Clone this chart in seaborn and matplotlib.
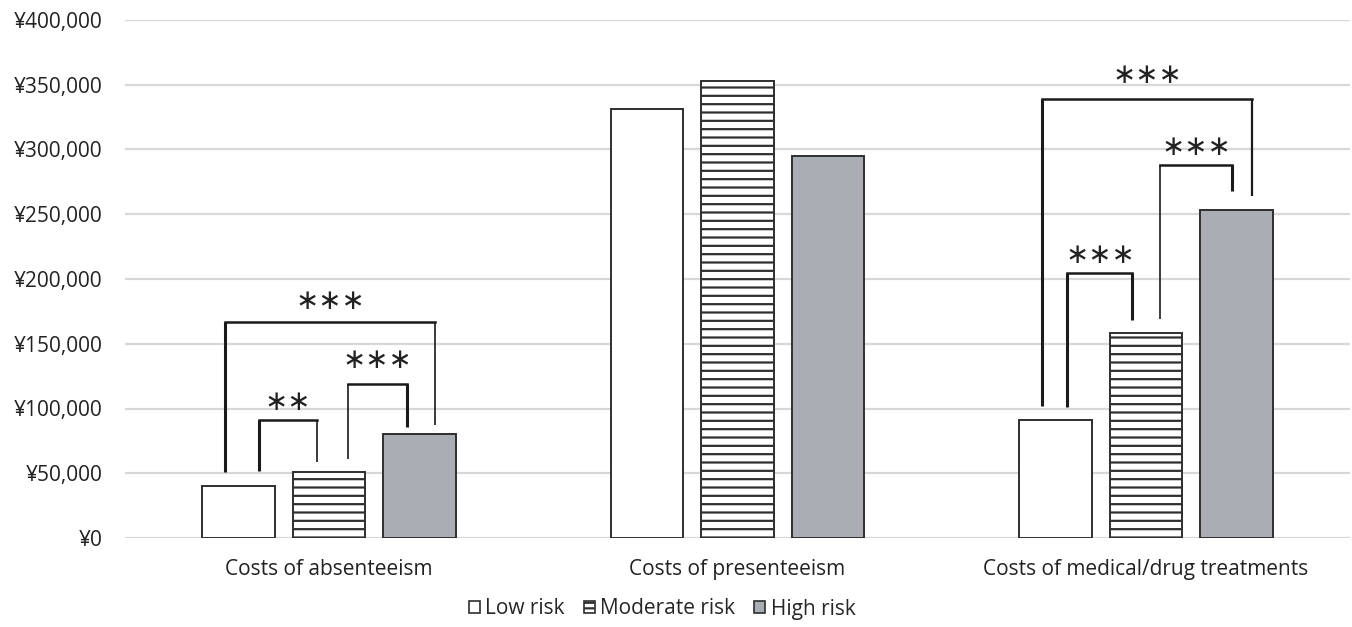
import numpy as np
import pandas as pd
import seaborn as sns
import matplotlib.pyplot as plt
from matplotlib.patches import Patch
from matplotlib.ticker import FuncFormatter

categories = ["Costs of absenteeism", "Costs of presenteeism",
              "Costs of medical/drug treatments"]
risk_groups = ["Low risk", "Moderate risk", "High risk"]
low_risk = [40000, 331000, 91000]
moderate_risk = [51000, 353000, 158000]
high_risk = [80000, 295000, 253000]

# significance brackets: group index, leg x offsets, bar-top y's, bracket top, stars
br_group = [0, 0, 0, 2, 2, 2]
br_x0 = [-0.171, 0.047, -0.255, -0.192, 0.035, -0.255]
br_x1 = [-0.030, 0.190, 0.260, -0.033, 0.212, 0.261]
br_y0 = [52000, 61000, 51000, 101000, 169000, 102000]
br_y1 = [59000, 86000, 87000, 168000, 268000, 264000]
br_top = [91000, 119000, 167000, 205000, 288000, 339000]
br_text_y = [105000, 137500, 183000, 218500, 302000, 357500]
br_label = ["**", "***", "***", "***", "***", "***"]
br_lw0 = [2.2, 1.2, 2.2, 2.2, 1.2, 2.2]
br_lw1 = [1.2, 2.2, 1.2, 2.2, 2.2, 1.6]

df = pd.DataFrame({
    "category": np.repeat(categories, 3),
    "risk": risk_groups * 3,
    "cost": [v for trio in zip(low_risk, moderate_risk, high_risk) for v in trio],
})

sns.set_theme(style="white")
plt.rcParams["font.family"] = ["Open Sans", "DejaVu Sans"]
plt.rcParams["hatch.linewidth"] = 1.6

edge = "#2f2f2f"
fills = {"Low risk": "white", "Moderate risk": "white", "High risk": "#a9adb4"}

fig = plt.figure(figsize=(13.52, 6.27), dpi=100)
ax = fig.add_axes([125 / 1352, 1 - 538 / 627, 1225 / 1352, 518 / 627])

sns.barplot(data=df, x="category", y="cost", hue="risk", hue_order=risk_groups,
            palette=fills, width=0.665, gap=0.2, edgecolor=edge, linewidth=1.4,
            legend=False, ax=ax)
for bar in ax.containers[1]:
    bar.set_hatch("--")

ax.set_ylim(0, 400000)
ax.set_yticks(np.arange(0, 400001, 50000))
ax.yaxis.set_major_formatter(FuncFormatter(lambda v, p: f"¥{v:,.0f}"))
ax.grid(axis="y", color="#d6d8dc", linewidth=1.6)
ax.set_axisbelow(True)
for s in ax.spines.values():
    s.set_visible(False)
ax.tick_params(axis="both", length=0, labelsize=15, colors="#222222")
ax.tick_params(axis="y", pad=16)
ax.tick_params(axis="x", pad=15)
ax.set_xlabel("")
ax.set_ylabel("")
ax.set_xlim(-0.5, 2.5)

for g, x0, x1, y0, y1, top, ty, lab, lw0, lw1 in zip(
        br_group, br_x0, br_x1, br_y0, br_y1, br_top, br_text_y,
        br_label, br_lw0, br_lw1):
    ax.plot([g + x0, g + x0], [y0, top], color="#1a1a1a", lw=lw0,
            solid_capstyle="butt")
    ax.plot([g + x1, g + x1], [y1, top], color="#1a1a1a", lw=lw1,
            solid_capstyle="butt")
    ax.plot([g + x0, g + x1], [top, top], color="#1a1a1a", lw=1.8,
            solid_capstyle="projecting")
    ax.text(g + (x0 + x1) / 2, ty, "\u2217" * len(lab), ha="center", va="center",
            fontsize=20, color="#222222", family=["DejaVu Sans"])

handles = [Patch(facecolor=fills[r], edgecolor=edge, linewidth=1.2,
                 hatch="---" if r == "Moderate risk" else None, label=r)
           for r in risk_groups]
fig.legend(handles=handles, loc="center", bbox_to_anchor=(662 / 1352, 1 - 609 / 627),
           ncol=3, frameon=False, fontsize=15, handlelength=0.55,
           handleheight=0.55, handletextpad=0.25, columnspacing=0.9)

fig.savefig("out.png", dpi=100)
